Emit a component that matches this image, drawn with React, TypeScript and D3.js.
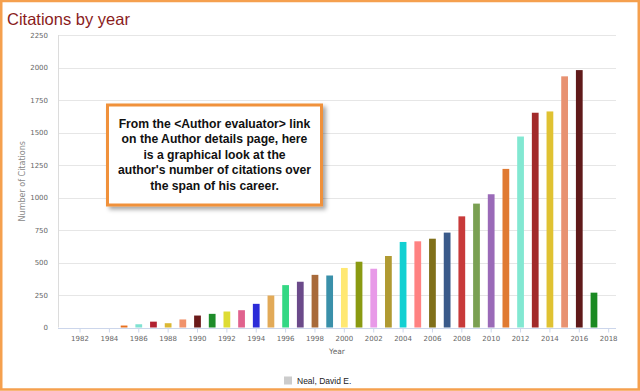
import React from 'react';
import * as d3 from 'd3';

const years = d3.range(1981, 2019);
const citations = [
  0, 0, 0, 0, 15, 25, 45, 33, 62, 92, 105, 123, 133, 182, 246, 326, 352, 405, 400,
  458, 506, 452, 550, 658, 663, 683, 730, 855, 953, 1025, 1220, 1469, 1652, 1662,
  1932, 1980, 268, 0,
];
const barColors = [
  '#cccccc', '#cccccc', '#cccccc', '#cccccc', '#e8701e', '#80e2d2', '#b22232', '#dbb834',
  '#f0926c', '#6b1a1a', '#1e8c2a', '#dedc34', '#e0628e', '#2c2cd8', '#e2aa58', '#34d884',
  '#6b4a8a', '#a86a3a', '#3a90aa', '#ffe872', '#8a9a12', '#e89ae8', '#b09a32', '#12d0d2',
  '#ff8282', '#80701a', '#3a5a8a', '#c83a3a', '#7aa052', '#9a6ab8', '#e07a32', '#82e8d2',
  '#a22a2a', '#e0c232', '#e89272', '#601a1a', '#1a8a22', '#cccccc',
];
const yTicks = [0, 250, 500, 750, 1000, 1250, 1500, 1750, 2000, 2250];
const xTickYears = d3.range(1982, 2019, 2);
const noteLines = [
  'From the <Author evaluator> link',
  'on the Author details page, here',
  'is a graphical look at the',
  "author's number of citations over",
  'the span of his career.',
];

const W = 640;
const H = 391;
const margin = { top: 35, right: 24, bottom: 63.5, left: 58 };

const App = () => {
  const x = d3.scaleBand<number>()
    .domain(years)
    .range([margin.left, W - margin.right])
    .padding(0);
  const y = d3.scaleLinear()
    .domain([0, 2250])
    .range([H - margin.bottom, margin.top]);
  const bw = x.bandwidth();
  const barW = bw * 0.46;
  const axisFont = '"DejaVu Sans", sans-serif';

  return (
    <svg width={W} height={H} style={{ position: 'absolute', left: 0, top: 0, background: '#fff' }}>
      <defs>
        <filter id="shadow" x="-10%" y="-10%" width="130%" height="140%">
          <feDropShadow dx="3" dy="3" stdDeviation="2" floodColor="#000" floodOpacity="0.35" />
        </filter>
      </defs>

      <text x={7} y={25} fontFamily='"Liberation Sans", Arial, sans-serif' fontSize={16.5} fill="#8a1c1c">
        Citations by year
      </text>

      {/* grid */}
      {yTicks.map(t => (
        <line key={t} x1={margin.left} x2={W - margin.right} y1={Math.round(y(t)) + 0.5} y2={Math.round(y(t)) + 0.5}
          stroke="#e6e6e6" strokeWidth={1} />
      ))}
      <line x1={margin.left + 0.5} x2={margin.left + 0.5} y1={margin.top} y2={y(0)} stroke="#dcdcdc" />

      {/* y labels */}
      {yTicks.map(t => (
        <text key={t} x={48} y={y(t) + 2.5} textAnchor="end" fontFamily={axisFont} fontSize={7} fill="#666">
          {t}
        </text>
      ))}
      <text transform={`translate(24.5,${(margin.top + y(0)) / 2}) rotate(-90)`} textAnchor="middle"
        fontFamily={axisFont} fontSize={8} fill="#888">
        Number of Citations
      </text>

      {/* bars */}
      {years.map((yr, i) => citations[i] > 0 && (
        <rect key={yr} x={(x(yr) as number) + (bw - barW) / 2} y={y(citations[i])} width={barW}
          height={y(0) - y(citations[i])} fill={barColors[i]} />
      ))}

      {/* x axis */}
      <line x1={margin.left} x2={W - margin.right} y1={Math.round(y(0)) + 0.5} y2={Math.round(y(0)) + 0.5} stroke="#ccd6eb" />
      {xTickYears.map(yr => {
        const cx = (x(yr) as number) + bw / 2;
        return (
          <g key={yr}>
            <line x1={cx} x2={cx} y1={y(0) + 0.5} y2={y(0) + 5} stroke="#ccd6eb" />
            <text x={cx} y={340.5} textAnchor="middle" fontFamily={axisFont} fontSize={7} fill="#666">
              {yr}
            </text>
          </g>
        );
      })}
      <text x={(margin.left + W - margin.right) / 2} y={353.5} textAnchor="middle" fontFamily={axisFont} fontSize={7.5} fill="#666">
        Year
      </text>

      {/* legend */}
      <rect x={284} y={376.5} width={8} height={8} fill="#cccccc" />
      <text x={297} y={384} fontFamily='"Liberation Sans", Arial, sans-serif' fontSize={8.5} fill="#222">
        Neal, David E.
      </text>

      {/* annotation */}
      <rect x={107.5} y={105} width={214} height={100} fill="#fff" stroke="#f0913a" strokeWidth={3} filter="url(#shadow)" />
      {noteLines.map((l, i) => (
        <text key={i} x={214.5} y={127.5 + i * 15.6} textAnchor="middle"
          fontFamily='"Liberation Sans", Arial, sans-serif' fontWeight="bold" fontSize={12.2} fill="#111">
          {l}
        </text>
      ))}

      {/* frame */}
      <rect x={1.25} y={1} width={W - 2.5} height={H - 2.5} fill="none" stroke="#f5a04e" strokeWidth={2.5} />
    </svg>
  );
};

export default App;
